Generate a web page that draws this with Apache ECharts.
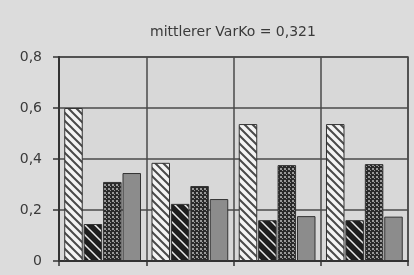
<!DOCTYPE html>
<html>
<head>
<meta charset="utf-8">
<script src="https://cdn.jsdelivr.net/npm/echarts@6/dist/echarts.min.js"></script>
<style>
  html, body { margin: 0; padding: 0; background: #dcdcdc; }
  #chart { width: 414px; height: 275px; }
</style>
</head>
<body>
<div id="chart"></div>
<script>
// Werte
const categories = ['1', '2', '3', '4'];
const seriesHatched = [0.60, 0.385, 0.537, 0.537];
const seriesBlack = [0.145, 0.224, 0.16, 0.16];
const seriesDotted = [0.31, 0.294, 0.376, 0.38];
const seriesGray = [0.345, 0.243, 0.176, 0.174];
const yTicks = [0, 0.2, 0.4, 0.6, 0.8];

// Musterfüllungen für die Balken
function stripes(bg, fg, size, width) {
  const c = document.createElement('canvas');
  c.width = size;
  c.height = size;
  const ctx = c.getContext('2d');
  ctx.fillStyle = bg;
  ctx.fillRect(0, 0, size, size);
  ctx.strokeStyle = fg;
  ctx.lineWidth = width;
  ctx.beginPath();
  ctx.moveTo(-2, -2); ctx.lineTo(size + 2, size + 2);
  ctx.moveTo(-2 - size, -2); ctx.lineTo(2, size + 2);
  ctx.moveTo(size - 2, -2); ctx.lineTo(2 * size + 2, size + 2);
  ctx.stroke();
  return c;
}

function dots() {
  const c = document.createElement('canvas');
  c.width = 4;
  c.height = 4;
  const ctx = c.getContext('2d');
  ctx.fillStyle = '#2a2a2a';
  ctx.fillRect(0, 0, 4, 4);
  ctx.fillStyle = '#9a9a9a';
  ctx.fillRect(0, 0, 2, 2);
  ctx.fillRect(2, 2, 1, 1);
  return c;
}

const fills = [
  { image: stripes('#f4f4f4', '#4a4a4a', 8, 2), repeat: 'repeat' },
  { image: stripes('#1e1e1e', '#e8e8e8', 10, 1.5), repeat: 'repeat' },
  { image: dots(), repeat: 'repeat' },
  '#8c8c8c'
];
const data = [seriesHatched, seriesBlack, seriesDotted, seriesGray];

const myChart = echarts.init(document.getElementById('chart'));
const option = {
  backgroundColor: '#dcdcdc',
  animation: false,
  title: {
    text: 'mittlerer VarKo = 0,321',
    left: 228,
    top: 20,
    textAlign: 'center',
    textStyle: {
      color: '#3a3a3a',
      fontSize: 14,
      fontWeight: 'normal',
      fontFamily: 'DejaVu Sans'
    }
  },
  grid: {
    left: 59,
    right: 6,
    top: 57,
    bottom: 14,
    show: true,
    backgroundColor: '#d8d8d8',
    borderColor: '#4a4a4a',
    borderWidth: 1.5
  },
  xAxis: {
    type: 'category',
    data: categories,
    axisLabel: { show: false },
    axisLine: { lineStyle: { color: '#333', width: 2 } },
    axisTick: { show: true, length: 5, lineStyle: { color: '#333', width: 1.5 } },
    splitLine: { show: true, lineStyle: { color: '#4a4a4a', width: 1.5 } }
  },
  yAxis: {
    type: 'value',
    min: 0,
    max: 0.8,
    interval: 0.2,
    axisLine: { show: true, lineStyle: { color: '#333', width: 2 } },
    axisTick: { show: true, length: 6, lineStyle: { color: '#333', width: 1.5 } },
    axisLabel: {
      margin: 17,
      color: '#3a3a3a',
      fontSize: 14,
      fontFamily: 'DejaVu Sans',
      formatter: function (v) {
        const idx = yTicks.indexOf(Math.round(v * 10) / 10);
        return idx === 0 ? '0' : String(yTicks[idx].toFixed(1)).replace('.', ',');
      }
    },
    splitLine: { show: true, lineStyle: { color: '#4a4a4a', width: 1.5 } }
  },
  series: data.map(function (vals, i) {
    return {
      type: 'bar',
      data: vals,
      barGap: '5%',
      barCategoryGap: '12%',
      itemStyle: {
        color: fills[i],
        borderColor: '#333',
        borderWidth: 1
      }
    };
  })
};
myChart.setOption(option);
</script>
</body>
</html>
